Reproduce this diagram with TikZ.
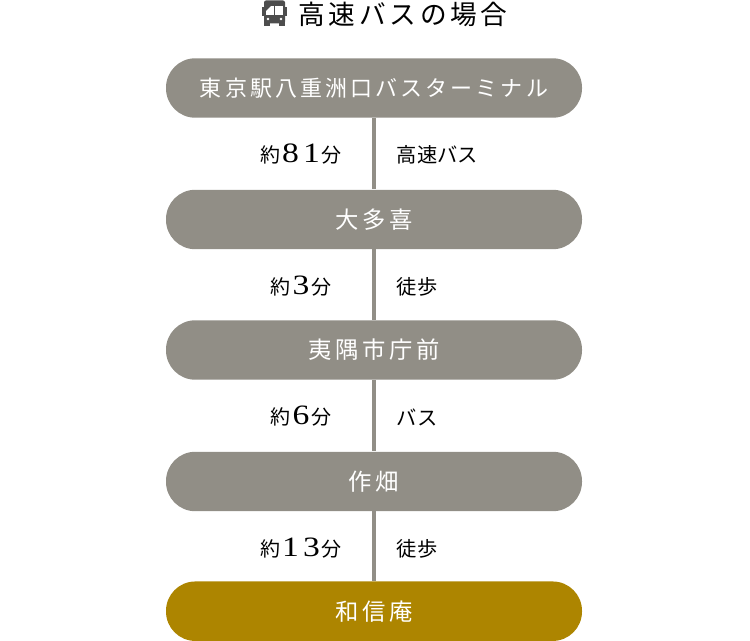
\documentclass[tikz,border=0pt]{standalone}
\usepackage{fontspec}
\usetikzlibrary{calc}
\newfontfamily\jpfont{Noto Sans CJK JP}
\newfontfamily\jpwide{Noto Sans CJK JP}[LetterSpace=14]
\newfontfamily\jpwider{Noto Sans CJK JP}[LetterSpace=16]
\newfontfamily\dgfont{Liberation Serif}
\newcommand{\dg}[1]{\hspace{1.5pt}\scalebox{1.2}[1]{\fontsize{21}{24}\dgfont #1}\hspace{1.5pt}}

\begin{document}
\begin{tikzpicture}[x=0.75pt,y=-0.75pt]

% ----------------------------
% Styles
% ----------------------------
\tikzset{
	stop/.style={draw=none,fill=stopgray,rounded corners=22pt,minimum width=312pt,minimum height=44.6pt,inner sep=0pt,text=white,font=\jpwider\fontsize{17.5}{20}\selectfont},
	longstop/.style={stop,font=\jpwide\fontsize{16.5}{18}\selectfont},
	goal/.style={stop,fill=goalgold},
	link/.style={draw=stopgray,line width=2.4pt},
	title/.style={inner sep=0pt,text=black,font=\jpwide\fontsize{20}{22}\selectfont},
	timelabel/.style={inner sep=0pt,text=black,font=\jpfont\fontsize{15}{18}\selectfont},
	modelabel/.style={inner sep=0pt,anchor=west,text=black,font=\jpfont\fontsize{15.2}{18}\selectfont},
	busbody/.style={fill=busgray,draw=none},
}
\definecolor{stopgray}{HTML}{918E86}
\definecolor{goalgold}{HTML}{AD8500}
\definecolor{busgray}{HTML}{4D4D4D}

\useasboundingbox (0,0) rectangle (750,641);

% ============================================================
% Title with bus icon
% ============================================================
\node[title] (head) at (403,14) {高速バスの場合};

\fill[busbody,rounded corners=1.5pt] (264,0.5) rectangle (285,23.5);
\fill[busbody] (261.5,7) rectangle (264,16);
\fill[busbody] (285,7) rectangle (287,16);
\fill[busbody] (264,22) rectangle (270,26.5);
\fill[busbody] (279,22) rectangle (285,26.5);
\fill[white] (266,6) rectangle (274,15);
\fill[white] (275,6) rectangle (283,15);
\fill[busbody] (266,11) -- (271,6) -- (266,6) -- cycle;
\fill[white] (268,19) circle (1.4);
\fill[white] (281,19) circle (1.4);

% ============================================================
% Stops
% ============================================================
\node[longstop] (tokyo) at (374,88) {東京駅八重洲口バスターミナル};
\node[stop] (otaki) at (374,219.5) {大多喜\hspace{3pt}};
\node[stop] (isumi) at (374,350) {夷隅市庁前};
\node[stop] (sakuhata) at (374,481.5) {作畑};
\node[goal] (wanobuan) at (374,611.2) {和信庵};

% Connectors between stops
\draw[link] (tokyo) -- (otaki);
\draw[link] (otaki) -- (isumi);
\draw[link] (isumi) -- (sakuhata);
\draw[link] (sakuhata) -- (wanobuan);

% ============================================================
% Travel times and modes
% ============================================================
\foreach \i/\y/\t/\m in {a/154/\dg{8}\dg{1}/高速バス,b/286/\dg{3}/徒歩,c/416/\dg{6}/バス,d/548/\dg{1}\dg{3}/徒歩}{
	\node[timelabel] (time\i) at (301,\y) {約\t 分};
	\node[modelabel] (mode\i) at (396.5,\y+1) {\m};
}
\end{tikzpicture}
\end{document}
